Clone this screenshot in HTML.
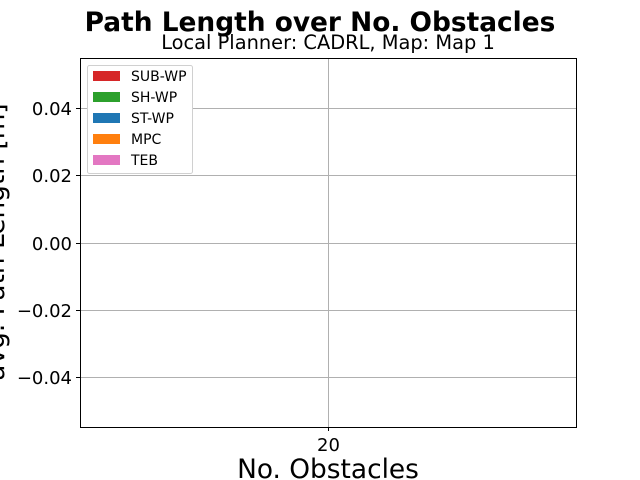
<!DOCTYPE html>
<html><head><meta charset="utf-8"><style>
body{margin:0;background:#fff}
svg{display:block;font-family:"DejaVu Sans","Liberation Sans",sans-serif}
</style></head><body>
<svg id="chart" width="640" height="480" viewBox="0 0 640 480">
<rect width="640" height="480" fill="#fff"/>
<text x="320" y="31" text-anchor="middle" font-size="26.4" font-weight="bold">Path Length over No. Obstacles</text>
<text x="328" y="49" text-anchor="middle" font-size="19.4">Local Planner: CADRL, Map: Map 1</text>
<g id="grid"></g>
<g id="yticks"></g>
<g id="xticks"></g>
<rect x="80.5" y="58.5" width="496" height="369" fill="none" stroke="#000" stroke-width="1"/>
<text x="328" y="478" text-anchor="middle" font-size="26.4">No. Obstacles</text>
<text transform="translate(4,242) rotate(-90)" text-anchor="middle" font-size="26.4">avg. Path Length [m]</text>
<g id="legend"></g>
</svg>
<script>
const categories = [20];
const yTicks = [0.04, 0.02, 0.00, -0.02, -0.04];
const yTickLabels = ["0.04", "0.02", "0.00", "\u22120.02", "\u22120.04"];
const seriesNames = ["SUB-WP", "SH-WP", "ST-WP", "MPC", "TEB"];
const seriesColors = ["#d62728", "#2ca02c", "#1f77b4", "#ff7f0e", "#e377c2"];
const seriesValues = [[], [], [], [], []];

const NS = "http://www.w3.org/2000/svg";
const L = 80, R = 576, T = 58, B = 427, yMin = -0.055, yMax = 0.055;
const yScale = v => B - (v - yMin) / (yMax - yMin) * (B - T);
const xScale = i => L + (i + 0.5) / categories.length * (R - L);
function mk(tag, attrs, parent) { const e = document.createElementNS(NS, tag); for (const k in attrs) e.setAttribute(k, attrs[k]); parent.appendChild(e); return e; }
const grid = document.getElementById('grid'), yt = document.getElementById('yticks'), xt = document.getElementById('xticks'), lg = document.getElementById('legend');
yTicks.forEach((v, i) => {
  const y = Math.round(yScale(v)) + 0.5;
  const g = mk('line', {x1: L, x2: R, y1: y, y2: y, stroke: '#b0b0b0', 'stroke-width': 1}, grid);
  
  
  const t = mk('line', {x1: L - 4, x2: L, y1: y, y2: y, stroke: '#000'}, yt);
  
  
  const tx = mk('text', {x: L - 8, y: y + 6.5, 'text-anchor': 'end', 'font-size': 18}, yt);
  tx.textContent = yTickLabels[i];
  
  
});
categories.forEach((c, i) => {
  const x = Math.round(xScale(i)) + 0.5;
  const g = mk('line', {x1: x, x2: x, y1: T, y2: B, stroke: '#b0b0b0', 'stroke-width': 1}, grid);
  
  
  const t = mk('line', {x1: x, x2: x, y1: B, y2: B + 4, stroke: '#000'}, xt);
  
  
  const tx = mk('text', {x: x, y: B + 24, 'text-anchor': 'middle', 'font-size': 18}, xt);
  tx.textContent = String(c);
  
  
});
const box = mk('rect', {x: 87.5, y: 65.5, width: 105, height: 108, rx: 2, fill: '#fff', stroke: '#d0d0d0'}, lg);


seriesNames.forEach((n, i) => {
  const y = 76 + i * 21;
  const g = mk('g', {}, lg);
  
  
  mk('rect', {x: 93, y: y - 5, width: 27, height: 10, fill: seriesColors[i]}, g);
  const t = mk('text', {x: 131, y: y + 5, 'font-size': 14}, g);
  t.textContent = n;
});
</script>
</body></html>
